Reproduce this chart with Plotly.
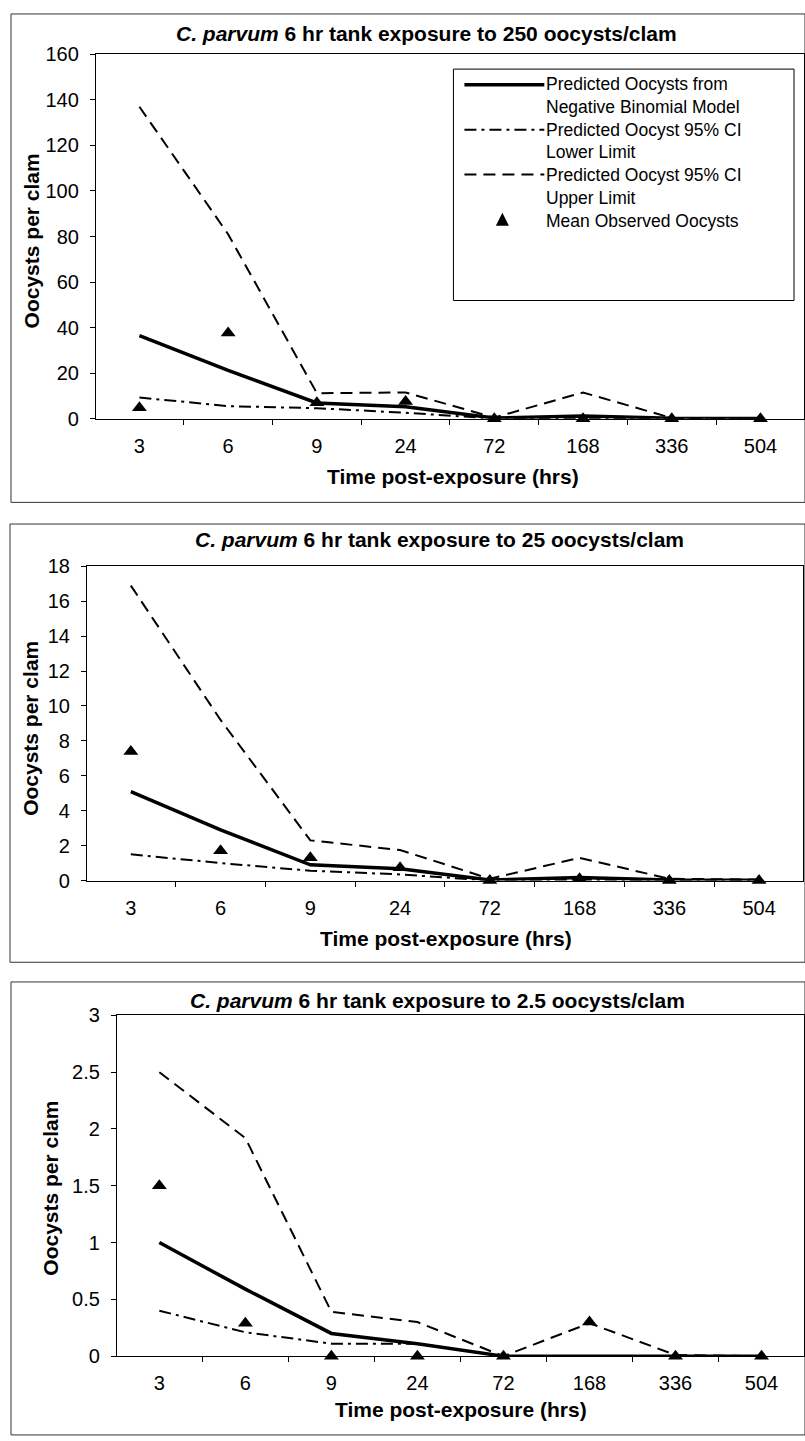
import plotly.graph_objects as go

# ---------------- data ----------------
times = ["3", "6", "9", "24", "72", "168", "336", "504"]

pred_250 = [36.5, 21.2, 6.9, 5.2, 0.3, 1.2, 0.2, 0.1]
lower_250 = [9.3, 5.5, 4.6, 2.6, 0.05, 0.2, 0.0, 0.0]
upper_250 = [137, 81, 11.2, 11.5, 0.5, 11.5, 0.3, 0.1]
obs_250 = [4.8, 37.6, 7.0, 7.5, 0, 0, 0, 0]

pred_25 = [5.1, 2.9, 0.9, 0.68, 0.03, 0.17, 0.03, 0.02]
lower_25 = [1.5, 1.0, 0.56, 0.35, 0.0, 0.03, 0.0, 0.0]
upper_25 = [16.9, 9.2, 2.3, 1.75, 0.1, 1.3, 0.1, 0.05]
obs_25 = [7.4, 1.7, 1.3, 0.73, 0, 0.1, 0, 0]

pred_2_5 = [1.0, 0.59, 0.2, 0.11, 0, 0, 0, 0]
lower_2_5 = [0.4, 0.21, 0.11, 0.11, 0, 0, 0, 0]
upper_2_5 = [2.5, 1.92, 0.39, 0.3, 0, 0.29, 0.01, 0]
obs_2_5 = [1.5, 0.29, 0, 0, 0, 0.3, 0, 0]

titles = ["250", "25", "2.5"]
y_max = [160, 18, 3]
y_dtick = [20, 2, 0.5]

legend_labels = [
    "Predicted Oocysts from", "Negative Binomial Model",
    "Predicted Oocyst 95% CI", "Lower Limit",
    "Predicted Oocyst 95% CI", "Upper Limit",
    "Mean Observed Oocysts",
]

# ---------------- layout helpers ----------------
W, H = 805, 1441
FONT = "Liberation Sans, Arial, sans-serif"


def px(x):
    return x / W


def py(y):
    return 1 - y / H


DASH_UP = "12px,7px"
DASH_LO = "12px,5px,3px,5px"

# panel geometry (pixels)
panels = [
    dict(l=96, r=805, t=44, b=414, title_x=427, title_y=23, xt_x=454, xt_y=473,
         yt_x=31, yt_y=233, box=(11, 3, 806, 499)),
    dict(l=87, r=804, t=564, b=883, title_x=440, title_y=537, xt_x=447, xt_y=942,
         yt_x=31, yt_y=728, box=(10, 521, 806, 966)),
    dict(l=117, r=805, t=1020, b=1366, title_x=438, title_y=1005, xt_x=462, xt_y=1420,
         yt_x=51, yt_y=1195, box=(11, 986, 806, 1446)),
]

series = [
    (pred_250, lower_250, upper_250, obs_250),
    (pred_25, lower_25, upper_25, obs_25),
    (pred_2_5, lower_2_5, upper_2_5, obs_2_5),
]

fig = go.Figure()
annotations = []
shapes = []

for i, (p, (pred, lo, up, obs)) in enumerate(zip(panels, series)):
    suffix = "" if i == 0 else str(i + 1)
    xa, ya = "x" + suffix, "y" + suffix
    fig.add_trace(go.Scatter(x=times, y=lo, mode="lines", xaxis=xa, yaxis=ya,
                             line=dict(color="black", width=2, dash=DASH_LO),
                             name="Predicted Oocyst 95% CI Lower Limit", showlegend=False))
    fig.add_trace(go.Scatter(x=times, y=up, mode="lines", xaxis=xa, yaxis=ya,
                             line=dict(color="black", width=2, dash=DASH_UP),
                             name="Predicted Oocyst 95% CI Upper Limit", showlegend=False))
    fig.add_trace(go.Scatter(x=times, y=pred, mode="lines", xaxis=xa, yaxis=ya,
                             line=dict(color="black", width=3.5),
                             name="Predicted Oocysts from Negative Binomial Model",
                             showlegend=False))
    fig.add_trace(go.Scatter(x=times, y=obs, mode="markers", xaxis=xa, yaxis=ya,
                             marker=dict(symbol="triangle-up", size=13, color="black"),
                             cliponaxis=False,
                             name="Mean Observed Oocysts", showlegend=False))

    fig.update_layout({
        "xaxis" + suffix: dict(
            domain=[px(p["l"]), px(p["r"])], anchor=ya, type="category",
            categoryorder="array", categoryarray=times,
            tickson="boundaries", ticks="outside", ticklen=5, tickcolor="black",
            showline=True, linecolor="black", linewidth=1, mirror=True,
            showgrid=False, zeroline=False,
            tickfont=dict(family=FONT, size=20, color="black"),
            ticklabelstandoff=9,
        ),
        "yaxis" + suffix: dict(
            domain=[py(p["b"]), py(p["t"])], anchor=xa,
            range=[0, y_max[i]], dtick=y_dtick[i], tick0=0,
            ticks="outside", ticklen=5, tickcolor="black",
            showline=True, linecolor="black", linewidth=1, mirror=True,
            showgrid=False, zeroline=False,
            tickfont=dict(family=FONT, size=20, color="black"),
            ticklabelstandoff=7,
        ),
    })

    annotations.append(dict(
        x=px(p["title_x"]), y=py(p["title_y"]), xref="paper", yref="paper",
        text=f"<b><i>C. parvum</i></b><b> 6 hr tank exposure to {titles[i]} oocysts/clam</b>",
        showarrow=False, xanchor="center", yanchor="middle",
        font=dict(family=FONT, size=21, color="black")))
    annotations.append(dict(
        x=px(p["xt_x"]), y=py(p["xt_y"]), xref="paper", yref="paper",
        text="<b>Time post-exposure (hrs)</b>", showarrow=False,
        xanchor="center", yanchor="middle",
        font=dict(family=FONT, size=21, color="black")))
    annotations.append(dict(
        x=px(p["yt_x"]), y=py(p["yt_y"]), xref="paper", yref="paper",
        text="<b>Oocysts per clam</b>", showarrow=False, textangle=-90,
        xanchor="center", yanchor="middle",
        font=dict(family=FONT, size=21, color="black")))

    bx0, by0, bx1, by1 = p["box"]
    shapes.append(dict(type="rect", xref="paper", yref="paper",
                       x0=px(bx0), x1=px(bx1), y0=py(by1), y1=py(by0),
                       line=dict(color="#333", width=1), layer="below"))

# ---------------- legend (panel 1) ----------------
LEG_FS = 17.5
LINE_H = LEG_FS * 1.3
first_row = 75
row_y = [first_row + k * LINE_H for k in range(len(legend_labels))]

shapes.append(dict(type="rect", xref="paper", yref="paper",
                   x0=px(454), x1=px(795), y0=py(294), y1=py(59),
                   line=dict(color="black", width=1), fillcolor="white", layer="above"))
samples = [(0, dict(color="black", width=3.5)),
           (2, dict(color="black", width=2, dash=DASH_LO)),
           (4, dict(color="black", width=2, dash=DASH_UP))]
for r, ln in samples:
    shapes.append(dict(type="line", xref="paper", yref="paper",
                       x0=px(465), x1=px(545), y0=py(row_y[r]), y1=py(row_y[r]),
                       line=ln, layer="above"))
# triangle marker sample
tx, ty, ts = 503, row_y[6], 6.5
shapes.append(dict(type="path", xref="paper", yref="paper",
                   path=f"M {px(tx - ts)} {py(ty + ts)} L {px(tx + ts)} {py(ty + ts)} "
                        f"L {px(tx)} {py(ty - ts)} Z",
                   fillcolor="black", line=dict(color="black", width=0), layer="above"))
annotations.append(dict(
    x=px(546), y=py((row_y[0] + row_y[-1]) / 2), xref="paper", yref="paper",
    text="<br>".join(legend_labels), align="left",
    showarrow=False, xanchor="left", yanchor="middle", borderpad=0,
    font=dict(family=FONT, size=LEG_FS, color="black")))

fig.update_layout(
    width=W, height=H, margin=dict(l=0, r=0, t=0, b=0),
    paper_bgcolor="white", plot_bgcolor="white",
    showlegend=False, annotations=annotations, shapes=shapes,
)

fig.write_html("out.html")
